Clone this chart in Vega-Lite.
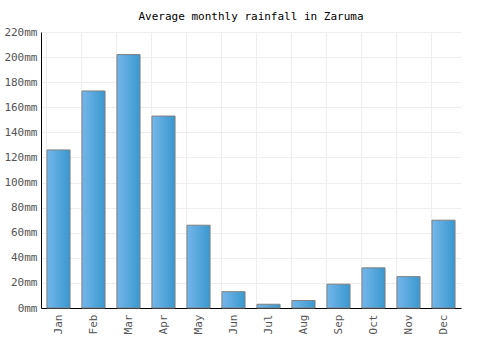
{
  "$schema": "https://vega.github.io/schema/vega-lite/v6.json",
  "autosize": "none",
  "width": 420,
  "height": 276,
  "padding": {"left": 41, "top": 32, "right": 39, "bottom": 42},
  "background": "white",
  "title": {"text": "Average monthly rainfall in Zaruma", "font": "DejaVu Sans Mono", "fontSize": 11, "fontWeight": "normal", "color": "#000", "offset": 4},
  "data": {"values": [
    {"month": "Jan", "rain": 126},
    {"month": "Feb", "rain": 173},
    {"month": "Mar", "rain": 202},
    {"month": "Apr", "rain": 153},
    {"month": "May", "rain": 66},
    {"month": "Jun", "rain": 13},
    {"month": "Jul", "rain": 3},
    {"month": "Aug", "rain": 6},
    {"month": "Sep", "rain": 19},
    {"month": "Oct", "rain": 32},
    {"month": "Nov", "rain": 25},
    {"month": "Dec", "rain": 70}
  ]},
  "mark": {
    "type": "bar",
    "stroke": "#808080",
    "strokeWidth": 1,
    "color": {"gradient": "linear", "x1": 0, "x2": 1, "y1": 0, "y2": 0,
      "stops": [{"offset": 0, "color": "#74b6ea"}, {"offset": 1, "color": "#3998cf"}]}
  },
  "encoding": {
    "x": {"field": "month", "type": "nominal", "sort": null,
      "scale": {"paddingInner": 0.34, "paddingOuter": 0.17},
      "axis": {"title": null, "labelAngle": -90, "labelFont": "DejaVu Sans Mono", "labelFontSize": 11, "labelColor": "#555",
        "domainColor": "#000", "ticks": false, "grid": true, "gridColor": "#eee", "bandPosition": 0, "labelPadding": 6, "labelAlign": "right", "labelBaseline": "middle"}},
    "y": {"field": "rain", "type": "quantitative",
      "scale": {"domain": [0, 220]},
      "axis": {"title": null, "values": [0,20,40,60,80,100,120,140,160,180,200,220], "labelExpr": "datum.value + 'mm'",
        "labelFont": "DejaVu Sans Mono", "labelFontSize": 11, "labelColor": "#555",
        "domain": true, "domainColor": "#000", "ticks": false, "gridColor": "#eee", "labelPadding": 4}}
  },
  "config": {"view": {"stroke": null}}
}
